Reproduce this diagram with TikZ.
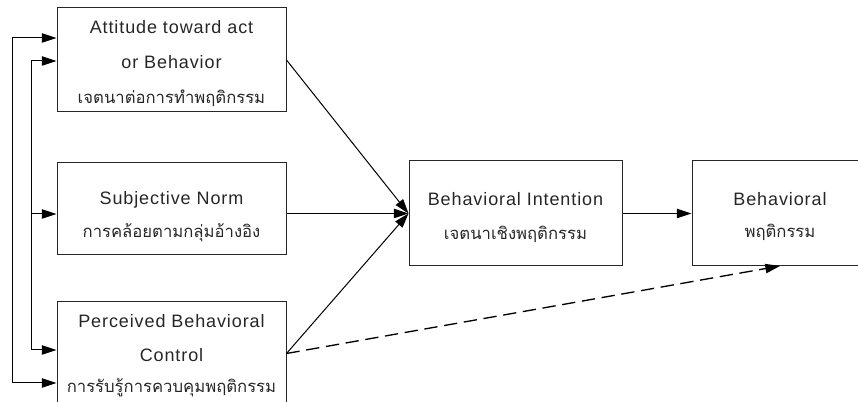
\documentclass[tikz,border=0pt]{standalone}
\usepackage{fontspec}
\setmainfont{Liberation Sans}[LetterSpace=5]
\newfontfamily\thaifont[Script=Thai]{Loma}
\usetikzlibrary{arrows.meta}
\begin{document}
\begin{tikzpicture}[x=0.75pt,y=-0.75pt,
  box/.style={draw=black!85, line width=0.75pt, inner sep=0pt},
  lat/.style={anchor=base, inner sep=0pt, font=\fontsize{13.5}{15}\selectfont, text=black!85},
  th/.style={anchor=base, inner sep=0pt, font=\thaifont\fontsize{12.5}{14}\selectfont, text=black!85},
  arr/.style={line width=0.75pt, -{Triangle[length=11pt,width=7pt]}},
  dasharr/.style={arr, line width=1pt, dash pattern=on 10pt off 5pt}]
\useasboundingbox (0,0) rectangle (858,402);
\begin{scope}
\clip (0,0) rectangle (858,402);
% boxes
\node[box, minimum width=171.75pt, minimum height=78pt] (A) at (171.5,60) {};
\node[box, minimum width=171.75pt, minimum height=69pt] (B) at (171.5,209) {};
\node[box, minimum width=171.75pt, minimum height=77.25pt] (C) at (171.5,353.5) {};
\node[box, minimum width=159.75pt, minimum height=78.75pt] (D) at (515.5,213.5) {};
\node[box, minimum width=132pt, minimum height=78.75pt] (E) at (780,213.5) {};
\end{scope}
% texts
\node[lat] (a1) at (171.5,34) {Attitude toward act};
\node[lat] (a2) at (171.5,69) {or Behavior};
\node[th] (a3) at (171.5,104) {เจตนาต่อการทำพฤติกรรม};
\node[lat] (b1) at (171.5,205) {Subjective Norm};
\node[th] (b2) at (171.5,238) {การคล้อยตามกลุ่มอ้างอิง};
\node[lat] (c1) at (171.5,328) {Perceived Behavioral};
\node[lat] (c2) at (171.5,362) {Control};
\node[th] (c3) at (171.5,393) {การรับรู้การควบคุมพฤติกรรม};
\node[lat] (d1) at (515.5,206) {Behavioral Intention};
\node[th] (d2) at (515.5,240) {เจตนาเชิงพฤติกรรม};
\node[lat] (e1) at (780,206) {Behavioral};
\node[th] (e2) at (780,238) {พฤติกรรม};
% main arrows
\coordinate (Dw) at (D.west);
\draw[arr] (A.east) -- (Dw);
\draw[arr] (Dw -| B.east) -- (Dw);
\draw[arr] (C.east) -- (Dw);
\draw[arr] (Dw -| D.east) -- (Dw -| E.west);
\draw[dasharr] (C.east) -- (780,266);
% feedback lines
\coordinate (ol) at (12,210);
\coordinate (il) at (31,210);
\draw[arr] (ol) |- (A.west |- 0,38);
\draw[arr] (ol) |- (C.west |- 0,383);
\draw[arr] (il) |- (A.west |- 0,61);
\draw[arr] (il) |- (C.west |- 0,350);
\draw[arr] (il |- 0,214) -- (B.west |- 0,214);
\end{tikzpicture}
\end{document}
